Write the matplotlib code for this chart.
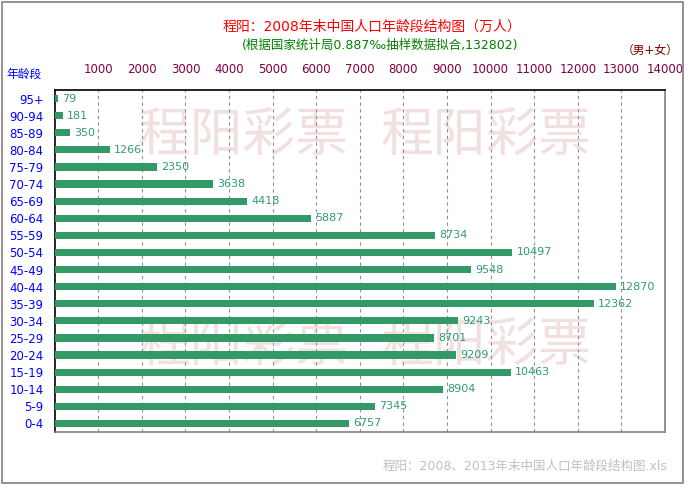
import matplotlib
matplotlib.use("Agg")
import matplotlib.pyplot as plt
from matplotlib.patches import Rectangle

plt.rcParams['font.family'] = ['DejaVu Sans', 'Noto Sans CJK SC']

categories = ["95+", "90-94", "85-89", "80-84", "75-79", "70-74", "65-69", "60-64",
              "55-59", "50-54", "45-49", "40-44", "35-39", "30-34", "25-29", "20-24",
              "15-19", "10-14", "5-9", "0-4"]
values = [79, 181, 350, 1266, 2350, 3638, 4418, 5887, 8734, 10497, 9548, 12870,
          12362, 9243, 8701, 9209, 10463, 8904, 7345, 6757]
xticks = list(range(1000, 15000, 1000))

fig = plt.figure(figsize=(6.88, 4.88), dpi=100)
fig.patch.set_facecolor('white')
ax = fig.add_axes([54.7/688, 1-432/488, (665-54.7)/688, (432-90)/488])
ax.set_facecolor('none')

# watermarks (behind the chart)
for yy in (135, 345):
    for xx in (137, 380):
        fig.text(xx/688, 1-yy/488, "程阳彩票", fontsize=38, color='#F2E0E0',
                 family=['Noto Sans CJK SC'], va='center', ha='left', zorder=-5)

ypos = list(range(len(categories)))
ax.barh(ypos, values, height=0.42, color='#339966', zorder=3)
for y, v in zip(ypos, values):
    ax.annotate(str(v), (v, y), xytext=(3, 0), textcoords='offset points',
                va='center', ha='left', fontsize=8, color='#2E9A78', zorder=4)

ax.set_xlim(0, 14000)
ax.set_ylim(len(categories)-0.5, -0.5)
ax.set_yticks(ypos)
ax.set_yticklabels(categories, color='#0000FF', fontsize=8.5)
ax.xaxis.tick_top()
ax.set_xticks(xticks)
ax.set_xticklabels([str(t) for t in xticks], color='#800040', fontsize=8.5)
ax.tick_params(axis='x', length=0, pad=10)
ax.tick_params(axis='y', length=0, pad=8)
for t in xticks[:-1]:
    ax.axvline(t, color='#909090', linestyle=(0, (3, 3)), linewidth=0.8, zorder=1)

ax.spines['top'].set_color('black')
ax.spines['left'].set_color('black')
ax.spines['right'].set_color('#808080')
ax.spines['bottom'].set_color('#808080')
for s in ax.spines.values():
    s.set_linewidth(1.2)

fig.text(372/688, 1-27/488, "程阳：2008年末中国人口年龄段结构图（万人）",
         color='#FF0000', fontsize=10, ha='center', va='center')
fig.text(380/688, 1-45/488, "(根据国家统计局0.887‰抽样数据拟合,132802)",
         color='#008000', fontsize=9, ha='center', va='center')
fig.text(650/688, 1-50/488, "（男+女）", color='#800000', fontsize=8.5,
         ha='center', va='center')
fig.text(6/688, 1-74/488, "年龄段", color='#0000FF', fontsize=8.5,
         ha='left', va='center')
fig.text(383/688, 1-466/488, "程阳：2008、2013年末中国人口年龄段结构图.xls",
         color='#C0C0C0', fontsize=9, ha='left', va='center')

fig.patches.append(Rectangle((2/688, 1-483/488), (683-2)/688, 481/488,
                             transform=fig.transFigure, fill=False,
                             edgecolor='#808080', linewidth=1.2))

fig.savefig("out.png", dpi=100)
